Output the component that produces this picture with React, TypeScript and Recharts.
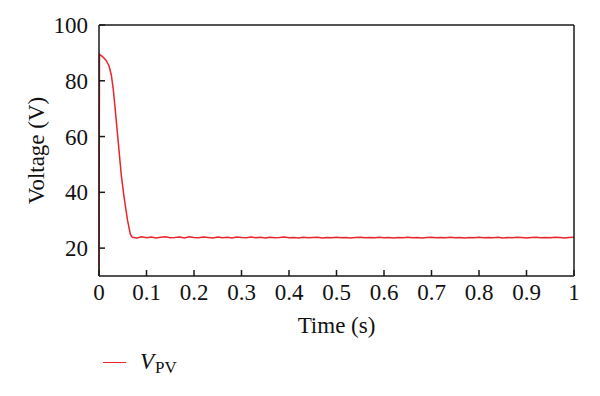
import { LineChart, Line, XAxis, YAxis } from "recharts";

document.body.style.margin = "0";

// start-up transient of the PV voltage
const transientTime = [0, 0.001, 0.008, 0.015, 0.021, 0.026, 0.03, 0.034, 0.04, 0.047, 0.053, 0.06, 0.066];
const transientVolt = [10, 89.5, 88.6, 87.3, 85.4, 82, 77, 70, 59, 46, 38, 30, 25];

// steady state after ~0.07 s
const steadyTime = [
  0.07, 0.08, 0.09, 0.1, 0.11, 0.12, 0.13, 0.14, 0.15, 0.16, 0.17, 0.18, 0.19, 0.2,
  0.21, 0.22, 0.23, 0.24, 0.25, 0.26, 0.27, 0.28, 0.29, 0.3, 0.31, 0.32, 0.33, 0.34,
  0.35, 0.36, 0.37, 0.38, 0.39, 0.4, 0.41, 0.42, 0.43, 0.44, 0.45, 0.46, 0.47, 0.48,
  0.49, 0.5, 0.51, 0.52, 0.53, 0.54, 0.55, 0.56, 0.57, 0.58, 0.59, 0.6, 0.61, 0.62,
  0.63, 0.64, 0.65, 0.66, 0.67, 0.68, 0.69, 0.7, 0.71, 0.72, 0.73, 0.74, 0.75, 0.76,
  0.77, 0.78, 0.79, 0.8, 0.81, 0.82, 0.83, 0.84, 0.85, 0.86, 0.87, 0.88, 0.89, 0.9,
  0.91, 0.92, 0.93, 0.94, 0.95, 0.96, 0.97, 0.98, 0.99, 1,
];
const steadyVolt = [
  23.9, 23.6, 24.1, 23.7, 24.0, 23.6, 23.9, 24.1, 23.7, 23.8, 24.0, 23.6, 24.1, 23.8,
  23.7, 24.0, 23.8, 23.6, 24.0, 23.7, 23.9, 23.6, 24.0, 23.8, 23.7, 24.0, 23.7, 23.9,
  23.6, 23.9, 23.7, 23.8, 24.0, 23.7, 23.8, 23.6, 23.9, 23.7, 23.8, 23.9, 23.6, 23.8,
  23.7, 23.9, 23.7, 23.8, 23.6, 23.8, 23.9, 23.7, 23.8, 23.7, 23.9, 23.7, 23.8, 23.6,
  23.8, 23.7, 23.9, 23.7, 23.8, 23.6, 23.8, 23.9, 23.7, 23.8, 23.7, 23.9, 23.7, 23.8,
  23.6, 23.8, 23.7, 23.9, 23.7, 23.8, 23.7, 23.9, 23.6, 23.8, 23.7, 23.9, 23.8, 23.6,
  23.8, 23.9, 23.7, 23.8, 23.7, 23.9, 23.8, 23.6, 23.8, 23.9,
];

const xTicks = [0, 0.1, 0.2, 0.3, 0.4, 0.5, 0.6, 0.7, 0.8, 0.9, 1];
const yTicks = [20, 40, 60, 80, 100];

const data = [
  ...transientTime.map((t, i) => ({ t, v: transientVolt[i] })),
  ...steadyTime.map((t, i) => ({ t, v: steadyVolt[i] })),
];

const FONT = "'Liberation Serif', 'Times New Roman', serif";
const RED = "#e8262b";
const AXIS = "#1a1a1a";
const tickStyle = { fontFamily: FONT, fontSize: 23, fill: "#111" };

const css = `
.recharts-cartesian-axis-tick-value { font-family: ${FONT}; font-size: 23px; fill: #111; }
`;

export default function App() {
  return (
    <div style={{ position: "relative", width: 600, height: 396, background: "#fff" }}>
      <style>{css}</style>
      <LineChart width={600} height={396} data={data} margin={{ top: 24, right: 25, bottom: 60, left: 0 }}>
        <XAxis
          xAxisId="b"
          dataKey="t"
          type="number"
          domain={[0, 1]}
          ticks={xTicks}
          tickFormatter={(v) => String(v)}
          height={60}
          tickSize={-6}
          tickMargin={14}
          tick={tickStyle}
          fontSize={23}
          fontFamily={FONT}
          stroke={AXIS}
          strokeWidth={1.5}
          label={({ viewBox }: any) => (
            <text x={viewBox.x + viewBox.width / 2} y={viewBox.y + 57} textAnchor="middle" style={tickStyle}>
              Time (s)
            </text>
          )}
        />
        <XAxis
          xAxisId="top"
          orientation="top"
          dataKey="t"
          type="number"
          domain={[0, 1]}
          ticks={xTicks}
          height={1}
          tickSize={-6}
          tick={false}
          stroke={AXIS}
          strokeWidth={1.5}
        />
        <YAxis
          yAxisId="l"
          type="number"
          domain={[10, 100]}
          ticks={yTicks}
          width={99}
          tickSize={-6}
          tickMargin={17}
          tick={tickStyle}
          fontSize={23}
          fontFamily={FONT}
          stroke={AXIS}
          strokeWidth={1.5}
          label={({ viewBox }: any) => {
            const cx = viewBox.x + 36;
            const cy = viewBox.y + viewBox.height / 2;
            return (
              <text x={cx} y={cy} textAnchor="middle" dominantBaseline="central" transform={`rotate(-90, ${cx}, ${cy})`} style={tickStyle}>
                Voltage (V)
              </text>
            );
          }}
        />
        <YAxis
          yAxisId="r"
          orientation="right"
          type="number"
          domain={[10, 100]}
          ticks={yTicks}
          width={1}
          tickSize={-6}
          tick={false}
          stroke={AXIS}
          strokeWidth={1.5}
        />
        <Line
          xAxisId="b"
          yAxisId="l"
          type="linear"
          dataKey="v"
          stroke={RED}
          strokeWidth={1.5}
          dot={false}
          isAnimationActive={false}
        />
      </LineChart>
      <div style={{ position: "absolute", left: 103, top: 349, display: "flex", alignItems: "center", fontFamily: FONT, color: "#111" }}>
        <div style={{ width: 23, height: 0, borderTop: `1.5px solid ${RED}`, marginRight: 14 }} />
        <span style={{ fontSize: 23, fontStyle: "italic" }}>V</span>
        <span style={{ fontSize: 17, position: "relative", top: 6, marginLeft: 1 }}>PV</span>
      </div>
    </div>
  );
}
